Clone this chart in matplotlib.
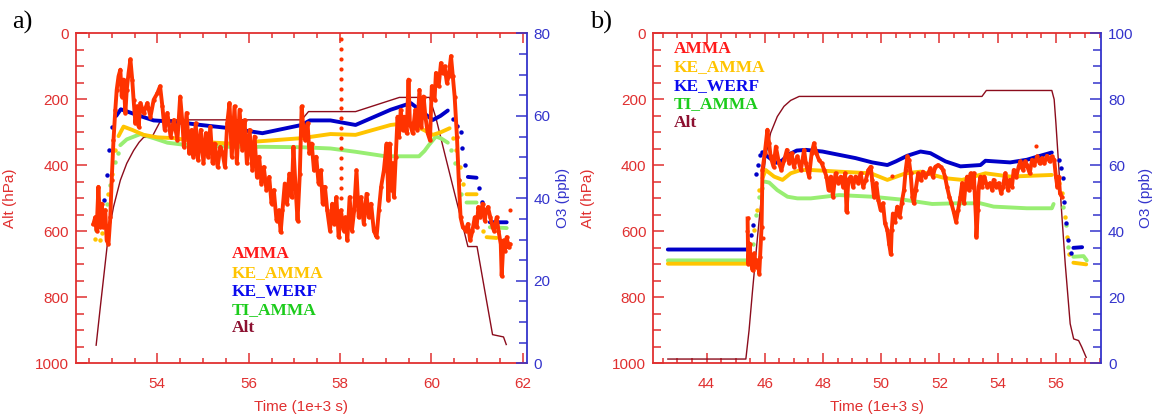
import numpy as np
import matplotlib
matplotlib.use("Agg")
import matplotlib.pyplot as plt
from matplotlib.ticker import MultipleLocator

plt.rcParams['font.family'] = ['Liberation Sans', 'DejaVu Sans']

nan = np.nan

# ---------------- panel a ----------------
# measured ozone (AMMA), time in 1e3 s, O3 in ppb
amma_a_t = [52.60, 52.64, 52.67, 52.71, 52.75, 52.78, 52.82, 52.86, 52.89, 52.93, 52.97, 53.00, 53.04, 53.08, 53.11,
            53.15, 53.19, 53.22, 53.26, 53.30, 53.33, 53.37, 53.41, 53.45, 53.48, 53.52, 53.56, 53.59, 53.63, 53.70,
            53.78, 53.85, 53.92, 54.00, 54.06, 54.11, 54.16, 54.22, 54.29, 54.36, 54.44, 54.50, 54.55, 54.58, 54.64,
            54.70, 54.75, 54.79, 54.84, 54.89, 54.95, 55.01, 55.06, 55.11, 55.16, 55.21, 55.26, 55.32, 55.38, 55.43,
            55.48, 55.53, 55.58, 55.63, 55.69, 55.74, 55.80, 55.86, 55.91, 55.96, 56.02, 56.08, 56.13, 56.18, 56.23,
            56.28, 56.33, 56.39, 56.45, 56.50, 56.55, 56.61, 56.66, 56.70, 56.74, 56.79, 56.84, 56.89, 56.94, 56.98,
            57.03, 57.07, 57.12, 57.16, 57.20, 57.24, 57.29, 57.33, 57.38, 57.43, 57.48, 57.53, 57.58, 57.62, 57.67,
            57.72, 57.78, 57.83, 57.87, 57.92, 57.97, 58.02, 58.08, 58.12, 58.16, 58.21, 58.26, 58.31, 58.36, 58.41,
            58.46, 58.52, 58.58, 58.63, 58.68, 58.74, 58.80, 58.85, 58.90, 58.96, 59.02, 59.06, 59.09, 59.12, 59.15,
            59.18, 59.22, 59.26, 59.29, 59.33, 59.37, 59.41, 59.46, 59.50, 59.53, 59.59, 59.65, 59.69, 59.74, 59.78,
            59.83, 59.87, 59.92, 59.97, 60.01, 60.07, 60.10, 60.16, 60.21, 60.25, 60.29, 60.34, 60.38, 60.43, 60.47,
            60.51, 60.56, 60.60, 60.64, 60.69, 60.75, 60.80, 60.85, 60.90, 60.95, 60.99, 61.03, 61.07, 61.12, 61.17,
            61.20, 61.24, 61.29, 61.34, 61.37, 61.43, 61.47, 61.52, 61.54, 61.58, 61.61, 61.65, 61.69, 61.72]
amma_a = [33.8, 35.4, 32.2, 42.8, 33.0, 38.7, 33.0, 37.1, 29.8, 28.9, 35.4, 44.4, 54.1, 61.5, 66.3,
          69.6, 71.2, 64.7, 68.8, 60.7, 66.3, 70.4, 73.7, 68.8, 63.9, 58.2, 62.3, 57.4, 63.1, 60.7,
          63.1, 59.8, 63.9, 65.5, 67.2, 62.3, 56.6, 60.7, 55.0, 59.0, 54.1, 64.7, 58.2, 52.5, 60.7,
          50.9, 56.6, 50.1, 58.2, 49.3, 56.6, 48.5, 55.8, 50.1, 57.4, 48.5, 53.3, 47.6, 52.5, 50.9,
          47.6, 58.2, 63.1, 50.1, 62.3, 48.5, 61.5, 51.7, 59.0, 48.5, 56.6, 46.8, 55.0, 45.2, 50.1,
          43.6, 47.6, 42.0, 45.2, 38.7, 42.0, 34.6, 37.1, 31.8, 37.1, 43.6, 38.7, 46.0, 40.3, 52.5,
          42.0, 34.6, 46.0, 62.3, 56.6, 54.1, 58.2, 50.9, 53.3, 46.8, 50.1, 43.6, 46.8, 38.7, 42.8,
          37.1, 32.2, 38.7, 33.8, 40.3, 30.6, 37.1, 32.2, 35.4, 29.8, 40.3, 32.2, 37.1, 46.8, 35.4,
          40.3, 33.8, 41.1, 35.4, 38.7, 32.2, 30.6, 37.1, 42.8, 46.8, 53.3, 39.5, 53.3, 42.0, 48.5,
          40.3, 50.1, 59.8, 55.0, 61.5, 56.6, 59.8, 55.8, 68.8, 58.2, 55.8, 61.5, 56.6, 66.3, 57.4,
          64.7, 59.8, 55.8, 54.1, 67.2, 63.9, 70.4, 67.2, 72.8, 70.4, 72.0, 68.0, 69.6, 74.5, 69.6,
          64.7, 55.0, 44.4, 35.4, 33.0, 32.2, 33.8, 29.8, 32.2, 35.4, 33.0, 37.9, 35.4, 38.7, 34.6,
          37.1, 37.9, 35.4, 33.0, 32.2, 35.4, 32.2, 28.9, 21.2, 29.8, 27.3, 30.6, 28.1, 28.9]
# sparse AMMA points (fast vertical excursion near 58.0 and isolated dots)
amma_a_dots_t = [58.02] * 18 + [61.72]
amma_a_dots = [80.5, 78.6, 76.2, 73.8, 71.4, 69.0, 66.6, 64.2, 61.8, 59.4, 57.0, 54.6, 52.2, 49.8,
               47.4, 45.0, 42.6, 40.2, 37.3]

# KE_AMMA (orange)
ke_amma_a_t = [53.15, 53.26, 53.45, 53.70, 54.00, 54.36, 54.95, 55.58, 56.31, 57.16, 57.79, 58.34, 59.11, 59.50,
               59.85, 60.03, 60.20, 60.40, nan, 60.77, 60.99, nan, 61.21, 61.43]
ke_amma_a = [55.1, 57.4, 56.6, 55.4, 54.8, 54.6, 53.7, 53.3, 53.9, 54.6, 55.6, 55.4, 57.8, 58.3,
             56.5, 55.4, 56.0, 57.0, nan, 41.0, 41.0, nan, 30.6, 30.4]
ke_amma_a_dots_t = [52.64, 52.74, 52.79, 52.86, 52.93, 53.00, 53.08, 60.47, 60.55, 60.62, 60.70, 61.13]
ke_amma_a_dots = [30.2, 30.0, 31.5, 37.1, 41.1, 46.0, 51.7, 54.6, 51.7, 47.6, 43.6, 32.2]

# KE_WERF (blue)
ke_werf_a_t = [53.10, 53.20, 53.33, 53.56, 53.70, 53.92, 54.36, 54.95, 55.60, 56.30, 57.16, 57.34, 57.79, 58.34,
               59.11, 59.55, 59.80, 60.03, 60.20, 60.36, nan, 60.80, 60.99, nan, 61.28, 61.65]
ke_werf_a = [60.0, 61.6, 61.1, 60.2, 59.7, 58.9, 58.6, 57.8, 57.0, 55.8, 57.8, 58.9, 58.9, 57.8,
             61.5, 63.1, 61.0, 59.0, 60.0, 61.3, nan, 45.2, 45.0, nan, 34.2, 34.2]
ke_werf_a_dots_t = [52.83, 52.89, 52.95, 53.00, 60.47, 60.56, 60.64, 60.68, 60.73, 61.05, 61.10, 61.17]
ke_werf_a_dots = [39.5, 45.6, 51.7, 57.2, 59.2, 57.5, 56.2, 52.1, 48.0, 42.6, 39.1, 37.0]

# TI_AMMA (green)
ti_amma_a_t = [53.19, 53.33, 53.63, 53.92, 54.22, 54.66, 55.58, 56.31, 57.16, 57.79, 58.34, 58.82, 59.00, 59.73,
               59.85, 59.95, 60.10, 60.22, 60.36, nan, 60.77, 60.99, nan, 61.28, 61.65]
ti_amma_a = [52.9, 54.3, 55.6, 54.6, 53.5, 52.9, 52.5, 52.5, 52.4, 52.1, 51.3, 50.5, 50.2, 50.2,
             51.5, 53.0, 55.0, 54.5, 53.5, nan, 39.0, 39.0, nan, 33.0, 32.8]
ti_amma_a_dots_t = [52.66, 52.80, 52.89, 52.96, 53.08, 53.13, 60.44, 60.52, 60.60, 60.66]
ti_amma_a_dots = [32.4, 35.0, 38.7, 43.2, 48.9, 51.0, 51.7, 48.5, 44.5, 41.1]

# aircraft altitude (hPa)
alt_a_t = [52.66, 52.75, 52.84, 52.93, 53.04, 53.19, 53.33, 53.48, 53.60, 53.70, 53.88, 54.08, 57.16, 57.31,
           58.34, 59.30, 59.96, 60.10, 60.29, 60.49, 60.69, 60.80, 61.00, 61.17, 61.34, 61.58, 61.64]
alt_a = [945, 831, 720, 608, 526, 445, 394, 355, 330, 315, 315, 262, 262, 237,
         237, 194, 194, 256, 363, 474, 584, 646, 646, 780, 913, 920, 943]

# ---------------- panel b ----------------
amma_b_t = [45.41, 45.43, 45.48, 45.52, 45.58, 45.64, 45.69, 45.75, 45.81, 45.84, 45.89, 45.92, 46.00, 46.09, 46.15,
            46.20, 46.30, 46.38, 46.49, 46.57, 46.67, 46.76, 46.84, 46.92, 47.00, 47.12, 47.24, 47.35, 47.41, 47.52,
            47.61, 47.69, 47.77, 47.86, 47.96, 48.04, 48.12, 48.19, 48.27, 48.34, 48.43, 48.53, 48.61, 48.69, 48.76,
            48.81, 48.87, 48.95, 49.03, 49.12, 49.21, 49.29, 49.38, 49.47, 49.56, 49.64, 49.69, 49.75, 49.83, 49.90,
            49.98, 50.06, 50.13, 50.21, 50.27, 50.33, 50.36, 50.40, 50.47, 50.55, 50.63, 50.70, 50.78, 50.84, 50.90,
            50.95, 51.01, 51.07, 51.12, 51.18, 51.27, 51.35, 51.43, 51.52, 51.61, 51.69, 51.77, 51.86, 51.95, 52.04,
            52.12, 52.19, 52.26, 52.34, 52.41, 52.49, 52.57, 52.64, 52.72, 52.78, 52.84, 52.89, 52.95, 53.01, 53.07,
            53.12, 53.18, 53.23, 53.25, 53.27, 53.32, 53.35, 53.41, 53.46, 53.54, 53.64, 53.73, 53.81, 53.86, 53.95,
            54.03, 54.12, 54.18, 54.26, 54.35, 54.41, 54.49, 54.55, 54.64, 54.72, 54.78, 54.87, 54.95, 55.00, 55.10,
            55.18, 55.26, 55.35, 55.44, 55.52, 55.60, 55.69, 55.78, 55.86, 55.94, 56.00, 56.05, 56.10, 56.14, 56.20]
amma_b = [43.9, 30.2, 36.3, 31.2, 28.2, 33.3, 29.2, 31.2, 27.2, 32.3, 41.4, 58.6, 63.7, 70.8, 66.7,
          62.7, 59.6, 65.7, 60.6, 58.6, 61.7, 64.7, 60.6, 63.7, 59.6, 62.7, 58.6, 64.7, 60.6, 56.6,
          63.7, 66.7, 63.7, 61.7, 60.6, 58.6, 56.6, 52.5, 56.6, 50.5, 57.6, 54.6, 56.6, 53.5, 57.6,
          45.9, 55.6, 56.6, 53.5, 56.6, 54.6, 57.6, 53.5, 55.6, 58.6, 59.6, 55.6, 50.5, 54.6, 49.5,
          46.4, 48.5, 42.4, 40.4, 36.3, 33.0, 40.4, 45.4, 42.9, 47.5, 44.4, 48.5, 52.5, 58.6, 62.7,
          61.7, 57.6, 50.5, 48.5, 52.5, 57.6, 55.6, 58.1, 56.6, 57.6, 59.1, 56.6, 59.6, 60.1, 59.6,
          58.6, 56.6, 53.5, 50.5, 48.5, 45.9, 42.9, 46.4, 50.5, 54.6, 48.5, 53.5, 56.6, 52.5, 57.6,
          53.5, 57.6, 48.5, 44.4, 38.3, 46.4, 53.5, 56.6, 53.5, 56.6, 53.5, 54.6, 52.5, 55.6, 53.5,
          54.6, 51.5, 53.5, 57.6, 52.5, 55.6, 53.5, 58.6, 56.6, 59.6, 61.2, 58.6, 61.2, 60.1, 57.6,
          61.7, 60.1, 62.7, 60.6, 62.2, 60.6, 62.9, 61.2, 62.7, 61.7, 56.6, 53.5, 56.6, 51.5, 50.5]
amma_b_dots_t = [45.38, 45.94, 50.36, 55.33]
amma_b_dots = [40.0, 38.0, 56.9, 66.0]

ke_amma_b_t = [42.67, 45.40, nan, 45.92, 46.03, 46.32, 46.61, 46.89, 47.24, 47.58, 48.55, 49.64, 50.21, 50.84,
               51.35, 52.21, 52.78, 53.58, 54.43, 55.86, nan, 56.60, 57.04]
ke_amma_b = [30.2, 30.2, nan, 56.1, 58.6, 56.6, 55.6, 57.6, 58.6, 58.6, 58.1, 57.6, 55.6, 57.6,
             58.1, 56.1, 55.6, 57.6, 56.6, 57.1, nan, 30.5, 30.0]
ke_amma_b_dots_t = [45.52, 45.64, 45.73, 45.81, 56.09, 56.20, 56.32, 56.39, 56.46]
ke_amma_b_dots = [31.5, 40.4, 46.4, 52.5, 54.6, 51.5, 44.4, 38.3, 33.0]

ke_werf_b_t = [42.67, 45.40, nan, 45.98, 46.20, 46.40, 46.60, 46.80, 47.10, 47.41, 47.98, 48.55, 49.12, 49.69,
               50.21, 50.50, 50.89, 51.35, 51.69, 52.21, 52.72, 53.41, 53.58, 54.43, 55.00, 55.46, 55.86, nan,
               56.60, 56.90]
ke_werf_b = [34.5, 34.5, nan, 63.5, 62.0, 60.8, 61.5, 63.2, 64.5, 64.7, 64.2, 63.2, 62.2, 60.9,
             60.1, 61.2, 62.9, 64.2, 63.7, 61.2, 59.7, 60.1, 61.4, 60.9, 61.7, 62.9, 63.9, nan,
             35.0, 35.2]
ke_werf_b_dots_t = [45.45, 45.52, 45.60, 45.70, 45.75, 45.82, 45.90, 56.09, 56.18, 56.24, 56.29, 56.35, 56.42, 56.51]
ke_werf_b_dots = [36.0, 38.8, 42.0, 57.5, 60.2, 63.2, 64.0, 61.7, 59.1, 56.1, 49.0, 42.6, 37.3, 33.5]

ti_amma_b_t = [42.67, 45.40, nan, 45.98, 46.15, 46.43, 46.78, 47.12, 47.58, 48.55, 49.69, 50.84, 51.75, 52.55,
               53.41, 53.86, 55.00, 55.86, 55.92, nan, 56.60, 56.95, 57.06]
ti_amma_b = [31.2, 31.2, nan, 55.1, 54.8, 52.5, 50.5, 50.0, 50.0, 51.0, 50.5, 49.5, 48.3, 48.5,
             48.5, 47.5, 47.0, 47.0, 48.3, nan, 32.3, 32.5, 31.2]
ti_amma_b_dots_t = [45.58, 45.69, 45.81, 45.90, 56.26, 56.35, 56.43]
ti_amma_b_dots = [36.3, 44.9, 50.5, 53.0, 47.5, 41.9, 35.3]

alt_b_t = [42.67, 45.35, 45.46, 45.58, 45.75, 45.92, 46.03, 46.20, 46.43, 46.66, 46.89, 47.18, 53.46, 53.61,
           55.86, 55.94, 56.00, 56.09, 56.20, 56.32, 56.49, 56.61, 56.78, 56.89, 57.04]
alt_b = [987, 987, 900, 779, 617, 464, 373, 302, 252, 221, 203, 191, 191, 173,
         173, 200, 272, 393, 546, 698, 880, 926, 931, 951, 982]

legend_names = ['AMMA', 'KE_AMMA', 'KE_WERF', 'TI_AMMA', 'Alt']
legend_colors = ['#ff1a1a', '#ffc400', '#0a0aee', '#1ccc1c', '#8c1030']

RED = '#e03030'
BLUE = '#3434cc'
C_AMMA = '#ff3300'
C_KE_AMMA = '#ffc400'
C_KE_WERF = '#0000c8'
C_TI_AMMA = '#98ee72'
C_ALT = '#8b0c1c'


def draw_panel(rect, tag, xlim, o3_max, legend_x, legend_y, d):
    ax = fig.add_axes(rect)
    ax2 = ax.twinx()

    ax.plot(d['alt_t'], d['alt'], color=C_ALT, lw=1.0, zorder=2)

    for key, col in (('ti', C_TI_AMMA), ('ke', C_KE_AMMA), ('werf', C_KE_WERF)):
        ax2.plot(d[key + '_t'], d[key], color=col, lw=2.8, solid_capstyle='round', zorder=2)
        ax2.plot(d[key + '_dt'], d[key + '_d'], 'o', color=col, ms=3.2, mec='none', zorder=2)

    # measured ozone drawn last, on top of the model curves
    ax2.plot(d['amma_t'], d['amma'], color=C_AMMA, lw=2.8, marker='o', ms=3.2, mec='none', zorder=3)
    ax2.plot(d['amma_dt'], d['amma_d'], 'o', color=C_AMMA, ms=3.0, mec='none', zorder=3)

    ax.set_xlim(*xlim)
    ax.set_ylim(1000, 0)
    ax2.set_ylim(0, o3_max)

    ax.xaxis.set_major_locator(MultipleLocator(2))
    ax.xaxis.set_minor_locator(MultipleLocator(0.5))
    ax.yaxis.set_major_locator(MultipleLocator(200))
    ax.yaxis.set_minor_locator(MultipleLocator(50))
    ax2.yaxis.set_major_locator(MultipleLocator(20))
    ax2.yaxis.set_minor_locator(MultipleLocator(5))

    for s in ('left', 'top', 'bottom'):
        ax.spines[s].set_color(RED)
        ax.spines[s].set_linewidth(1.3)
        ax2.spines[s].set_visible(False)
    ax.spines['right'].set_visible(False)
    ax2.spines['right'].set_color(BLUE)
    ax2.spines['right'].set_linewidth(1.3)

    ax.tick_params(axis='x', which='both', direction='in', top=True, bottom=True,
                   colors=RED, labelsize=11, pad=10, width=1.1)
    ax.tick_params(axis='x', which='major', length=7)
    ax.tick_params(axis='x', which='minor', length=3.5)
    ax.tick_params(axis='y', which='both', direction='in', left=True, right=False,
                   colors=RED, labelsize=11, pad=5, width=1.1)
    ax.tick_params(axis='y', which='major', length=8)
    ax.tick_params(axis='y', which='minor', length=6)
    ax2.tick_params(axis='y', which='both', direction='in', colors=BLUE, labelsize=11, pad=5, width=1.1)
    ax2.tick_params(axis='y', which='major', length=8)
    ax2.tick_params(axis='y', which='minor', length=6)

    ax.set_xlabel('Time (1e+3 s)', color=RED, fontsize=11, labelpad=6)
    ax.set_ylabel('Alt (hPa)', color=RED, fontsize=11)
    ax.yaxis.set_label_coords(-0.13, 0.5)
    ax2.set_ylabel('O3 (ppb)', color=BLUE, fontsize=11, labelpad=4)

    for i, (name, col) in enumerate(zip(legend_names, legend_colors)):
        ax2.text(legend_x, legend_y - i * 0.056, name, transform=ax2.transAxes, color=col,
                 fontsize=12.5, fontweight='bold', family=['Liberation Serif', 'DejaVu Serif'],
                 va='center', ha='left', zorder=5)

    fig.text(rect[0] - 0.055, 0.945, tag, fontsize=19, family=['Liberation Serif', 'DejaVu Serif'],
             va='center', ha='left')


fig = plt.figure(figsize=(11.54, 4.15), dpi=100)

data_a = dict(alt_t=alt_a_t, alt=alt_a,
              ti_t=ti_amma_a_t, ti=ti_amma_a, ti_dt=ti_amma_a_dots_t, ti_d=ti_amma_a_dots,
              ke_t=ke_amma_a_t, ke=ke_amma_a, ke_dt=ke_amma_a_dots_t, ke_d=ke_amma_a_dots,
              werf_t=ke_werf_a_t, werf=ke_werf_a, werf_dt=ke_werf_a_dots_t, werf_d=ke_werf_a_dots,
              amma_t=amma_a_t, amma=amma_a, amma_dt=amma_a_dots_t, amma_d=amma_a_dots)
data_b = dict(alt_t=alt_b_t, alt=alt_b,
              ti_t=ti_amma_b_t, ti=ti_amma_b, ti_dt=ti_amma_b_dots_t, ti_d=ti_amma_b_dots,
              ke_t=ke_amma_b_t, ke=ke_amma_b, ke_dt=ke_amma_b_dots_t, ke_d=ke_amma_b_dots,
              werf_t=ke_werf_b_t, werf=ke_werf_b, werf_dt=ke_werf_b_dots_t, werf_d=ke_werf_b_dots,
              amma_t=amma_b_t, amma=amma_b, amma_dt=amma_b_dots_t, amma_d=amma_b_dots)

draw_panel([0.0659, 0.1245, 0.3906, 0.795], 'a)', (52.22, 62.09), 80, 0.346, 0.330, data_a)
draw_panel([0.5661, 0.1245, 0.3880, 0.795], 'b)', (42.17, 57.55), 100, 0.045, 0.953, data_b)

fig.savefig('out.png', dpi=100)
